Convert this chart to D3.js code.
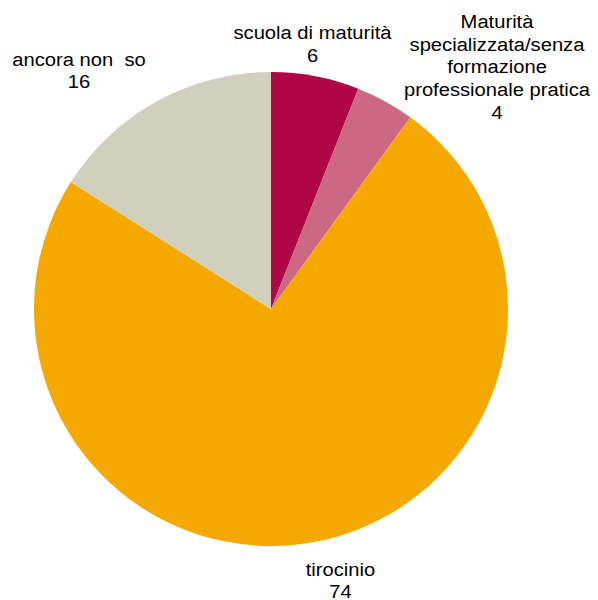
<!DOCTYPE html>
<html>
<head>
<meta charset="utf-8">
<script src="https://cdn.jsdelivr.net/npm/d3@7"></script>
<style>
  body { margin: 0; background: #fff; }
  text { font-family: "Liberation Sans", Arial, sans-serif; font-size: 18.6px; fill: #000; }
</style>
</head>
<body>
<svg class="canvas" width="598" height="600"></svg>
<script>
// data
var categories = ['scuola di maturità', 'Maturità specializzata/senza formazione professionale pratica', 'tirocinio', 'ancora non  so'];
var labelLines = [
    ['scuola di maturità'],
    ['Maturità', 'specializzata/senza', 'formazione', 'professionale pratica'],
    ['tirocinio'],
    ['ancora non  so']
];
var values = [6, 4, 74, 16];
var colors = ['#AF0646', '#CC6884', '#F5A800', '#D1D0BF'];

// layout
var cx = 271, cy = 309, radius = 237;
var labelPos = [
    {x: 312.5, y: 39},
    {x: 497, y: 28.3},
    {x: 340.5, y: 575.5},
    {x: 79, y: 65.8}
];
var lineHeight = 22.6;
var textStretch = 1.085; // labels in the original are a bit wider than Liberation Sans

var svg = d3.select('.canvas');
var chart = svg.append('g')
    .attr('transform', 'translate(' + cx + ',' + cy + ')');

var pie = d3.pie().sort(null).value(d => d);
var arc = d3.arc().innerRadius(0).outerRadius(radius);

chart.selectAll('path.slice')
    .data(pie(values))
    .enter().append('path')
    .classed('slice', true)
    .attr('d', arc)
    .attr('fill', (d, i) => colors[i]);

// labels
var labels = svg.selectAll('text.label')
    .data(categories)
    .enter().append('text')
    .classed('label', true)
    .attr('text-anchor', 'middle')
    .attr('xml:space', 'preserve')
    .style('white-space', 'pre')
    .attr('transform', (d, i) => 'translate(' + labelPos[i].x + ',' + labelPos[i].y + ') scale(' + textStretch + ',1)');

labels.each(function(d, i){
    var t = d3.select(this);
    var lines = labelLines[i].concat([String(values[i])]);
    lines.forEach(function(line, j){
        t.append('tspan')
            .attr('x', 0)
            .attr('y', j * lineHeight)
            .text(line);
    });
});
</script>
</body>
</html>
